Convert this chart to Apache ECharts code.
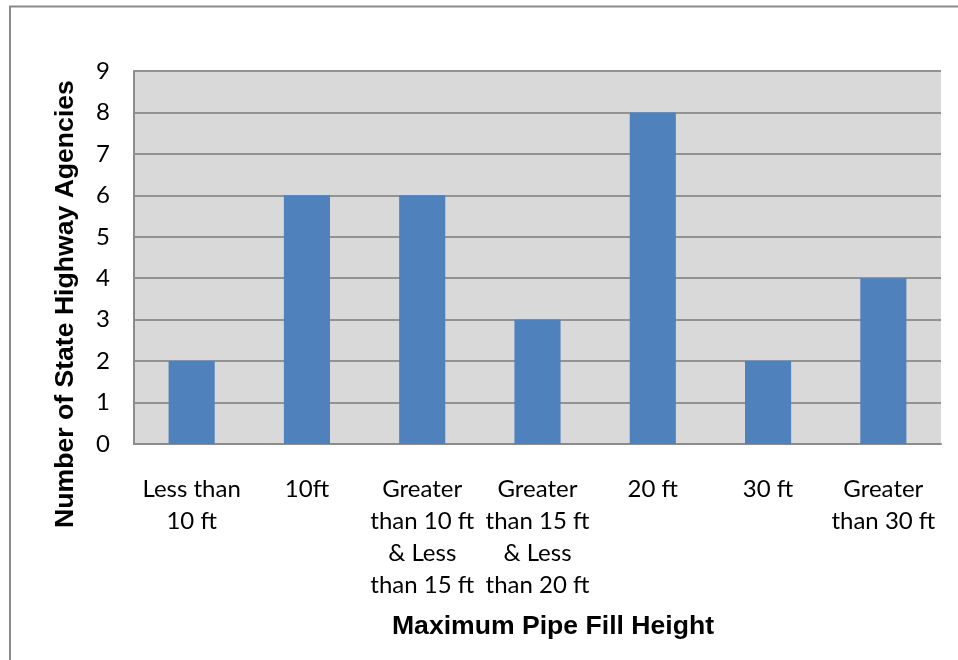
<!DOCTYPE html>
<html>
<head>
<meta charset="utf-8">
<script src="https://cdn.jsdelivr.net/npm/echarts@6/dist/echarts.min.js"></script>
<style>
  html, body { margin: 0; padding: 0; background: #ffffff; }
  #chart { width: 958px; height: 660px; }
</style>
</head>
<body>
<div id="chart"></div>
<script>
// Fill-height categories (multi-line labels) and agency counts
const categories = [
  'Less than\n10 ft',
  '10ft',
  'Greater\nthan 10 ft\n& Less\nthan 15 ft',
  'Greater\nthan 15 ft\n& Less\nthan 20 ft',
  '20 ft',
  '30 ft',
  'Greater\nthan 30 ft'
];
const agencyCounts = [2, 6, 6, 3, 8, 2, 4];
const yTickMin = 0;
const yTickMax = 9;
const yTickStep = 1;

const xTitle = 'Maximum Pipe Fill Height';
const yTitle = 'Number of State Highway Agencies';

const labelFont = 'Lato, "Open Sans", sans-serif';
const titleFont = 'bold 26.6px "Liberation Sans", Arial, sans-serif';

const chart = echarts.init(document.getElementById('chart'), null, { renderer: 'canvas' });

chart.setOption({
  backgroundColor: '#ffffff',
  animation: false,
  grid: {
    left: 134,
    top: 71,
    right: 17,
    bottom: 216,
    show: true,
    backgroundColor: '#d9d9d9',
    borderWidth: 0
  },
  xAxis: {
    type: 'category',
    data: categories,
    axisLine: { show: true, lineStyle: { color: '#8c8c8c', width: 2 } },
    axisTick: { show: false },
    axisLabel: {
      interval: 0,
      margin: 29,
      color: '#000000',
      fontFamily: labelFont,
      fontSize: 24,
      lineHeight: 32,
      align: 'center'
    },
    splitLine: { show: false }
  },
  yAxis: {
    type: 'value',
    min: yTickMin,
    max: yTickMax,
    interval: yTickStep,
    axisLine: { show: true, lineStyle: { color: '#8c8c8c', width: 2 } },
    axisTick: { show: false },
    axisLabel: {
      margin: 24,
      color: '#000000',
      fontFamily: labelFont,
      fontSize: 24
    },
    splitLine: { show: true, lineStyle: { color: '#929292', width: 2 } }
  },
  series: [{
    type: 'bar',
    data: agencyCounts,
    barWidth: '40%',
    itemStyle: { color: '#4f81bd' },
    z: 3
  }],
  graphic: [
    {
      type: 'rect',
      shape: { x: 10, y: 6.5, width: 1000, height: 700 },
      style: { fill: 'none', stroke: '#8a8a8a', lineWidth: 2 },
      z: 10
    },
    {
      type: 'text',
      x: 553,
      y: 627,
      style: {
        text: xTitle,
        font: titleFont,
        fill: '#000000',
        textAlign: 'center',
        textVerticalAlign: 'middle'
      }
    },
    {
      type: 'text',
      x: 66,
      y: 304,
      rotation: Math.PI / 2,
      style: {
        text: yTitle,
        font: titleFont,
        fill: '#000000',
        textAlign: 'center',
        textVerticalAlign: 'middle'
      }
    }
  ]
});
</script>
</body>
</html>
